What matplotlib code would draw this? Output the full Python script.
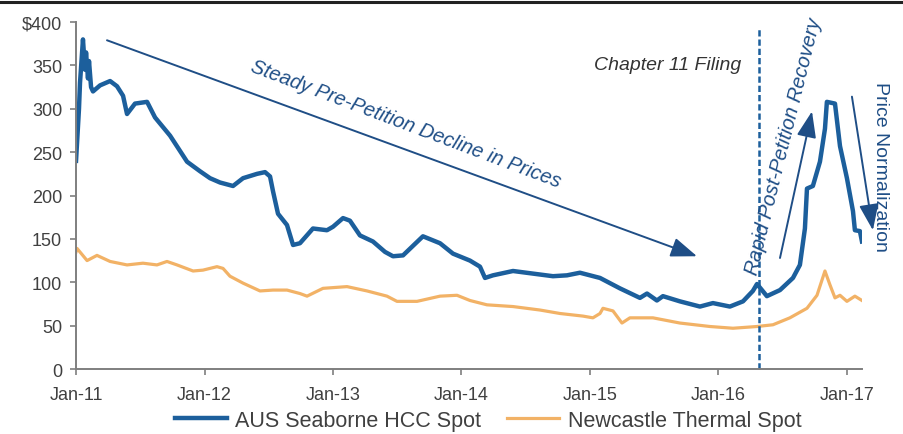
import matplotlib
matplotlib.use("Agg")
import matplotlib.pyplot as plt
from matplotlib.lines import Line2D

plt.rcParams["font.family"] = ["Liberation Sans", "DejaVu Sans"]

# AUS seaborne hard coking coal spot, US$/t (time in decimal years)
hcc_t = [2011.000, 2011.023, 2011.031, 2011.054, 2011.070, 2011.078, 2011.093,
         2011.101, 2011.117, 2011.132, 2011.187, 2011.265, 2011.319, 2011.366,
         2011.397, 2011.459, 2011.553, 2011.615, 2011.732, 2011.864, 2011.965,
         2012.043, 2012.121, 2012.222, 2012.300, 2012.409, 2012.471, 2012.510,
         2012.533, 2012.572, 2012.642, 2012.689, 2012.743, 2012.844, 2012.953,
         2013.000, 2013.078, 2013.132, 2013.210, 2013.311, 2013.405, 2013.467,
         2013.545, 2013.700, 2013.833, 2013.934, 2014.066, 2014.144, 2014.183,
         2014.245, 2014.401, 2014.556, 2014.712, 2014.821, 2014.922, 2015.078,
         2015.233, 2015.389, 2015.444, 2015.521, 2015.568, 2015.700, 2015.856,
         2015.957, 2016.089, 2016.191, 2016.268, 2016.300, 2016.377, 2016.479,
         2016.580, 2016.634, 2016.673, 2016.689, 2016.735, 2016.790, 2016.829,
         2016.844, 2016.907, 2016.946, 2017.000, 2017.047, 2017.062, 2017.101,
         2017.117]
hcc_px = [240, 300, 330, 380, 345, 365, 335,
          355, 325, 320, 327, 332, 326, 315,
          294, 306, 308, 290, 269, 239, 228,
          220, 215, 211, 220, 225, 227, 222,
          205, 179, 166, 143, 145, 162, 160,
          164, 174, 171, 154, 147, 135, 130,
          131, 153, 145, 133, 125, 118, 105,
          108, 113, 110, 107, 108, 111, 105,
          93, 82, 87, 79, 84, 78, 72,
          76, 72, 78, 90, 98, 84, 91,
          105, 120, 162, 208, 211, 239, 277,
          308, 306, 257, 220, 182, 160, 159,
          147]

# Newcastle thermal coal spot, US$/t
thermal_t = [2011.000, 2011.008, 2011.086, 2011.163, 2011.265, 2011.397, 2011.521,
             2011.630, 2011.708, 2011.786, 2011.911, 2011.988, 2012.097, 2012.144,
             2012.198, 2012.300, 2012.432, 2012.533, 2012.642, 2012.743, 2012.798,
             2012.922, 2013.109, 2013.265, 2013.420, 2013.498, 2013.654, 2013.833,
             2013.965, 2014.066, 2014.198, 2014.401, 2014.611, 2014.767, 2014.946,
             2015.023, 2015.078, 2015.101, 2015.179, 2015.249, 2015.311, 2015.490,
             2015.700, 2015.934, 2016.113, 2016.300, 2016.424, 2016.556, 2016.689,
             2016.767, 2016.829, 2016.868, 2016.907, 2016.946, 2017.000, 2017.062,
             2017.117]
thermal_px = [135, 139, 125, 131, 124, 120, 122,
              120, 124, 120, 113, 114, 118, 116,
              107, 99, 90, 91, 91, 87, 84,
              93, 95, 90, 84, 78, 78, 84,
              85, 79, 74, 72, 68, 64, 61,
              59, 64, 70, 67, 53, 59, 59,
              53, 49, 47, 49, 51, 59, 70,
              85, 113, 97, 82, 85, 78, 84,
              79]

tick_years = [2011, 2012, 2013, 2014, 2015, 2016, 2017]
tick_names = ["Jan-11", "Jan-12", "Jan-13", "Jan-14", "Jan-15", "Jan-16", "Jan-17"]
y_ticks = [0, 50, 100, 150, 200, 250, 300, 350, 400]
y_names = ["0", "50", "100", "150", "200", "250", "300", "350", "$400"]

filing = 2016.315

blue = "#1c5f9c"
orange = "#f2b266"
navy = "#1f4e86"
grey = "#404040"

fig = plt.figure(figsize=(9.04, 4.35), dpi=100)
ax = fig.add_axes([0.0841, 0.1494, 0.8694, 0.7976])

ax.plot(thermal_t, thermal_px, color=orange, lw=2.3, solid_joinstyle="round")
ax.plot(hcc_t, hcc_px, color=blue, lw=3.2, solid_joinstyle="round")

ax.set_xlim(2011.0, 2017.117)
ax.set_ylim(0, 400)
ax.set_xticks(tick_years)
ax.set_xticklabels(tick_names)
ax.set_yticks(y_ticks)
ax.set_yticklabels(y_names)
for s in ["top", "right"]:
    ax.spines[s].set_visible(False)
for s in ["left", "bottom"]:
    ax.spines[s].set_color("#7f7f7f")
    ax.spines[s].set_linewidth(1.4)
ax.tick_params(axis="both", colors="#7f7f7f", labelcolor=grey, labelsize=13,
               length=4, width=1.2, direction="out")
ax.tick_params(axis="x", pad=8)
ax.tick_params(axis="y", pad=6)

# chapter 11 filing marker
ax.plot([filing, filing], [0, 393], color=blue, lw=1.8, ls=(0, (2.5, 1.2)),
        clip_on=False)
ax.text(2016.18, 351, "Chapter 11 Filing", style="italic", fontsize=14,
        color="#333333", ha="right", va="center")

arrow = dict(arrowstyle="-|>,head_length=0.8,head_width=0.3", color=navy,
             lw=1.4, shrinkA=0, shrinkB=0, mutation_scale=20)

ax.annotate("", xy=(2015.833, 130), xytext=(2011.241, 379),
            arrowprops=arrow, annotation_clip=False)
ax.text(2013.568, 283, "Steady Pre-Petition Decline in Prices", style="italic",
        fontsize=14.5, color=navy, rotation=-20.7, rotation_mode="anchor",
        ha="center", va="center")

ax.annotate("", xy=(2016.728, 297), xytext=(2016.479, 128),
            arrowprops=arrow, annotation_clip=False)
ax.text(2016.505, 258, "Rapid Post-Petition Recovery", style="italic",
        fontsize=14.5, color=navy, rotation=76, rotation_mode="anchor",
        ha="center", va="center")

ax.annotate("", xy=(2017.202, 160), xytext=(2017.039, 314),
            arrowprops=arrow, annotation_clip=False)
ax.text(2017.262, 234, "Price Normalization", fontsize=14, color=navy,
        rotation=-90, rotation_mode="anchor", ha="center", va="center",
        clip_on=False)

handles = [Line2D([], [], color=blue, lw=3.2),
           Line2D([], [], color=orange, lw=2.3)]
fig.legend(handles, ["AUS Seaborne HCC Spot", "Newcastle Thermal Spot"],
           loc="center", bbox_to_anchor=(0.54, 0.032), ncol=2, frameon=False,
           fontsize=15.5, handlelength=2.4, handletextpad=0.4,
           columnspacing=1.2, labelcolor=grey)

# slide rule along the top edge
fig.add_artist(Line2D([0, 1], [0.992, 0.992], color="#222222", lw=2.2,
                      transform=fig.transFigure))

fig.savefig("out.png", dpi=100)
